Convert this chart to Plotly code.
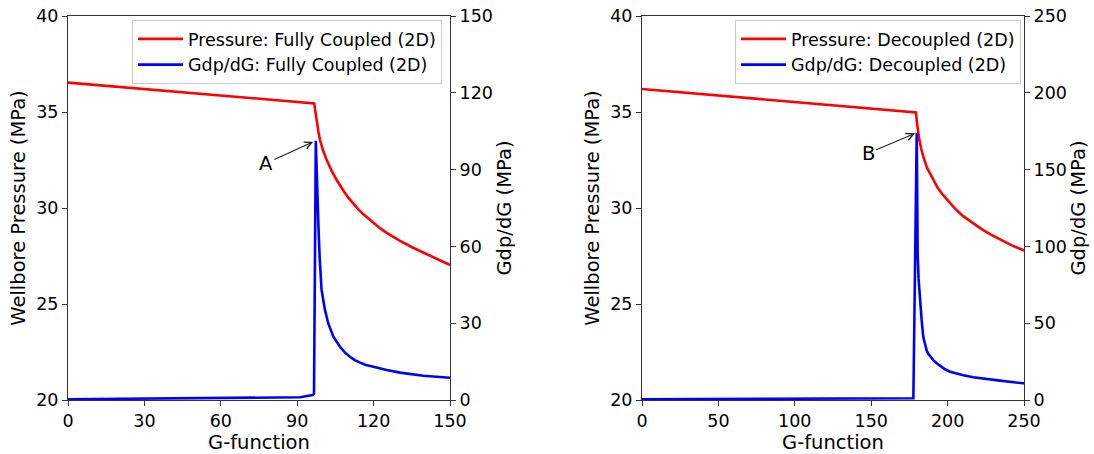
import plotly.graph_objects as go

# ---- Fully Coupled (2D) ----
g_p1 = [0, 20, 40, 60, 80, 96.7, 97.0, 97.3, 97.7, 98.3, 98.95, 99.6, 100.2, 101.6, 102.5, 103.5, 105.5,
        107.0, 108.5, 110.0, 112.0, 114.0, 116.0, 119.9, 122.5, 125.0, 128.0, 130.4, 135.5, 140.8, 145.5, 150]
p1 = [36.53, 36.31, 36.08, 35.86, 35.64, 35.45, 35.15, 34.85, 34.5, 34.0, 33.54, 33.22, 32.98, 32.5, 32.22, 31.95, 31.46,
      31.12, 30.83, 30.55, 30.22, 29.93, 29.67, 29.21, 28.95, 28.72, 28.47, 28.29, 27.93, 27.59, 27.30, 27.03]

g_d1 = [0, 30, 60, 91.1, 96.1, 96.6, 97.3, 97.7, 98.3, 98.8, 99.2, 99.55, 100.0, 100.9, 102.2, 104.2, 106.8,
        108.7, 110.7, 112.6, 114.7, 117.0, 119.9, 125.1, 130.4, 139.5, 150]
d1 = [0.3, 0.5, 0.75, 1.05, 1.95, 2.5, 101.3, 85.0, 69.0, 56.0, 46.9, 43.2, 40.4, 35.2, 29.9, 24.7, 20.8,
      18.6, 16.9, 15.6, 14.6, 13.7, 13.0, 11.7, 10.7, 9.5, 8.7]

# ---- Decoupled (2D) ----
g_p2 = [0, 50, 100, 150, 179.3, 180.0, 180.8, 181.5, 182.7, 184.1, 186.5, 190.6, 193.5, 197.0, 201.6, 205.0,
        210.0, 216.8, 222.0, 228.0, 234.3, 242.0, 250]
p2 = [36.2, 35.86, 35.52, 35.17, 34.98, 34.4, 33.89, 33.55, 33.1, 32.67, 32.1, 31.46, 31.05, 30.68, 30.24, 29.95,
      29.59, 29.18, 28.91, 28.63, 28.36, 28.05, 27.79]

g_d2 = [0, 50, 100, 150, 177.6, 179.8, 180.1, 180.4, 181.0, 181.9, 183.0, 184.1, 185.2, 186.3, 187.4, 188.5,
        190.7, 192.9, 196.1, 198.3, 201.6, 205.9, 210.3, 216.8, 225.6, 234.3, 249.5, 250]
d2 = [0.5, 0.65, 0.8, 0.95, 1.1, 174.0, 130.0, 95.0, 79.0, 65.1, 52.1, 41.0, 36.0, 32.2, 30.0, 28.4,
      25.8, 23.9, 21.5, 20.0, 18.4, 17.1, 16.1, 14.8, 13.6, 12.6, 10.85, 10.8]

x1_ticks = [0, 30, 60, 90, 120, 150]
x2_ticks = [0, 50, 100, 150, 200, 250]
p_ticks = [20, 25, 30, 35, 40]
d1_ticks = [0, 30, 60, 90, 120, 150]
d2_ticks = [0, 50, 100, 150, 200, 250]

W, H = 1094, 454
FONT = "DejaVu Sans"
LC = "#333333"

def px_x(v):
    return v / W

def px_y(v):
    return 1 - v / H

ydom = [px_y(400), px_y(16)]
x1dom = [px_x(68), px_x(450)]
x2dom = [px_x(642), px_x(1024)]

fig = go.Figure()
fig.add_trace(go.Scatter(x=g_p1, y=p1, mode="lines", name="Pressure: Fully Coupled (2D)",
                         line=dict(color="#ff0000", width=2.6), xaxis="x", yaxis="y", legend="legend"))
fig.add_trace(go.Scatter(x=g_d1, y=d1, mode="lines", name="Gdp/dG: Fully Coupled (2D)",
                         line=dict(color="#0000ff", width=2.6), xaxis="x", yaxis="y2", legend="legend"))
fig.add_trace(go.Scatter(x=g_p2, y=p2, mode="lines", name="Pressure: Decoupled (2D)",
                         line=dict(color="#ff0000", width=2.6), xaxis="x2", yaxis="y3", legend="legend2"))
fig.add_trace(go.Scatter(x=g_d2, y=d2, mode="lines", name="Gdp/dG: Decoupled (2D)",
                         line=dict(color="#0000ff", width=2.6), xaxis="x2", yaxis="y4", legend="legend2"))

tickfont = dict(family=FONT, size=17.5, color="black")
titlefont = dict(family=FONT, size=19.5, color="black")

def xax(dom, anchor, rng, ticks):
    return dict(domain=dom, anchor=anchor, range=rng, tickvals=ticks, ticks="outside", ticklen=5,
                tickcolor=LC, showline=True, linecolor=LC, linewidth=1, mirror=True,
                showgrid=False, zeroline=False, tickfont=tickfont, automargin=False,
                title=dict(text="G-function", font=titlefont, standoff=4))

def yax(dom, anchor, rng, ticks, title, side="left", overlaying=None):
    d = dict(domain=dom, anchor=anchor, range=rng, tickvals=ticks, ticks="outside", ticklen=5,
             tickcolor=LC, showline=True, linecolor=LC, linewidth=1, side=side,
             showgrid=False, zeroline=False, tickfont=tickfont, automargin=False,
             title=dict(text=title, font=titlefont, standoff=5))
    if overlaying:
        d["overlaying"] = overlaying
    return d

legfont = dict(family=FONT, size=17.5, color="black")

fig.update_layout(
    width=W, height=H,
    margin=dict(l=0, r=0, t=0, b=0),
    template="none",
    paper_bgcolor="white", plot_bgcolor="white",
    font=dict(family=FONT, color="black"),
    xaxis=xax(x1dom, "y", [0, 150], x1_ticks),
    yaxis=yax(ydom, "x", [20, 40], p_ticks, "Wellbore Pressure (MPa)"),
    yaxis2=yax(ydom, "x", [0, 150], d1_ticks, "Gdp/dG (MPa)", side="right", overlaying="y"),
    xaxis2=xax(x2dom, "y3", [0, 250], x2_ticks),
    yaxis3=yax(ydom, "x2", [20, 40], p_ticks, "Wellbore Pressure (MPa)"),
    yaxis4=yax(ydom, "x2", [0, 250], d2_ticks, "Gdp/dG (MPa)", side="right", overlaying="y3"),
    legend=dict(x=px_x(442), xanchor="right", y=px_y(20), yanchor="top", itemwidth=45,
                bgcolor="rgba(255,255,255,0.8)", bordercolor="#cccccc", borderwidth=1, font=legfont),
    legend2=dict(x=px_x(1021), xanchor="right", y=px_y(20), yanchor="top", itemwidth=45,
                 bgcolor="rgba(255,255,255,0.8)", bordercolor="#cccccc", borderwidth=1, font=legfont),
    showlegend=True,
)

fig.add_annotation(x=96.3, y=33.45, xref="x", yref="y", ax=77.7, ay=32.33, axref="x", ayref="y",
                   text="A", showarrow=True, arrowhead=5, arrowsize=1.3, arrowwidth=1.1,
                   arrowcolor="#222222", font=dict(family=FONT, size=19.5, color="black"))
fig.add_annotation(x=178.7, y=33.89, xref="x2", yref="y3", ax=148.1, ay=32.85, axref="x2", ayref="y3",
                   text="B", showarrow=True, arrowhead=5, arrowsize=1.3, arrowwidth=1.1,
                   arrowcolor="#222222", font=dict(family=FONT, size=19.5, color="black"))

fig.write_html("out.html")
